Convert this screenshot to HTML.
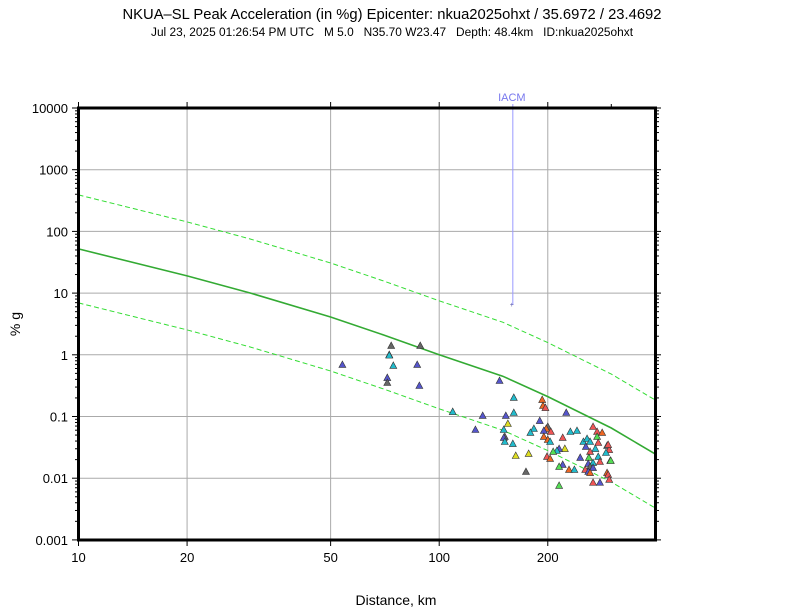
<!DOCTYPE html>
<html><head><meta charset="utf-8"><style>
html,body{margin:0;padding:0;background:#fff;}
svg{display:block;font-family:"Liberation Sans",sans-serif;}
</style></head><body>
<svg id="chart" width="792" height="612" viewBox="0 0 792 612">
<text x="392" y="19" text-anchor="middle" font-size="14.5" textLength="539" lengthAdjust="spacingAndGlyphs">NKUA–SL Peak Acceleration (in %g) Epicenter: nkua2025ohxt / 35.6972 / 23.4692</text>
<text x="392" y="36" text-anchor="middle" font-size="11.5" textLength="482" lengthAdjust="spacingAndGlyphs" style="white-space:pre" xml:space="preserve">Jul 23, 2025 01:26:54 PM UTC   M 5.0   N35.70 W23.47   Depth: 48.4km   ID:nkua2025ohxt</text>
<g id="grid"></g>
<g id="ticks"></g>
<g id="lines"></g>
<g id="station"></g>
<g id="points"></g>
<rect x="78.5" y="108" width="577" height="432" fill="none" stroke="#000" stroke-width="3"/>
<text x="396" y="605" text-anchor="middle" font-size="14">Distance, km</text>
<text x="20" y="324" text-anchor="middle" font-size="14" transform="rotate(-90 20 324)">% g</text>
</svg>
<script>
const xTicks=[10,20,50,100,200];
const yTicks=[0.001,0.01,0.1,1,10,100,1000,10000];
const yTickLabels=["0.001","0.01","0.1","1","10","100","1000","10000"];
const medDist=[10,20,30,50,70,100,150,200,300,400];
const medVal=[52,19,10,4.1,2.1,1.0,0.45,0.21,0.065,0.024];
const sigmaFactor=7.5;
const iacmDist=160, iacmVal=6.4;
const ptDist=[73.6,88.6,72.7,72.7,53.9,74.6,86.9,71.8,71.8,88.1,147,161,109,132,153,161,155,126,151,152,151,152,160,163,
193,194,197,225,190,200,198,183,179,195,204,231,241,267,274,283,274,220,195,200,203,251,257,262,276,292,296,255,271,262,
223,215,212,207,290,177,199,203,246,260,276,298,279,267,259,220,215,262,267,229,237,254,259,292,262,294,174,296,279,267,215,299,294];
const ptVal=[1.39,1.39,0.99,0.97,0.684,0.66,0.684,0.42,0.349,0.312,0.376,0.200,0.118,0.102,0.102,0.114,0.0756,0.0604,0.0604,0.0466,0.0449,0.0386,0.0358,0.0229,
0.185,0.148,0.137,0.114,0.0845,0.0676,0.0627,0.0627,0.0541,0.0582,0.0561,0.0561,0.0582,0.0676,0.0561,0.0541,0.0466,0.0449,0.0466,0.0416,0.0386,0.0386,0.0432,0.0386,0.0372,0.0333,0.0286,0.0321,0.0297,0.0266,
0.0297,0.0297,0.0276,0.0266,0.0256,0.0247,0.0221,0.0205,0.0213,0.0213,0.0221,0.0190,0.0183,0.0176,0.0170,0.0164,0.0152,0.0152,0.0146,0.0136,0.0136,0.0136,0.0126,0.0121,0.0121,0.0113,0.0126,0.0094,0.0084,0.0084,0.0075,0.019,0.0345];
const ptColor=["#666","#666","#2bc","#2bc","#55c","#2bc","#55c","#55c","#666","#55c","#55c","#2bc","#2bc","#55c","#55c","#2bc","#dd2","#55c","#2bc","#666","#55c","#2bc","#2bc","#dd2",
"#e62","#e62","#e55","#55c","#55c","#666","#e62","#2bc","#2bc","#55c","#e55","#2bc","#2bc","#e55","#e55","#e62","#5d5","#e55","#e62","#e62","#2bc","#2bc","#2bc","#2bc","#e55","#2bc","#e55","#55c","#2bc","#e55",
"#dd2","#55c","#2bc","#5d5","#2bc","#dd2","#e55","#e62","#55c","#5d5","#2bc","#5d5","#e55","#2bc","#55c","#55c","#5d5","#666","#55c","#e62","#2bc","#e55","#55c","#e62","#e62","#e55","#666","#e55","#55c","#e55","#5d5","#5d5","#e55"];

const X0=78.5,DEC=360.7,Y0=108,YDEC=61.7;
function sx(d){return X0+(Math.log10(d)-1)*DEC;}
function sy(v){return Y0+(4-Math.log10(v))*YDEC;}
const NS="http://www.w3.org/2000/svg";
function mk(tag,attrs,parent){const e=document.createElementNS(NS,tag);for(const k in attrs)e.setAttribute(k,attrs[k]);parent.appendChild(e);return e;}
const grid=document.getElementById('grid'),ticks=document.getElementById('ticks');
xTicks.forEach(t=>{const x=sx(t);
 const g=mk('line',{x1:x,x2:x,y1:108,y2:540,stroke:'#aaa','stroke-width':1},grid);
 
 const tk=mk('line',{x1:x,x2:x,y1:540,y2:546,stroke:'#000','stroke-width':1},ticks);
 
 const tt=mk('line',{x1:x,x2:x,y1:102,y2:108,stroke:'#000','stroke-width':1},ticks);
 
 const l=mk('text',{x:x,y:562,'text-anchor':'middle','font-size':13},ticks);l.textContent=t;
 });
[300,400].forEach(t=>{const x=sx(t);if(x<655){const tt=mk('line',{x1:x,x2:x,y1:104,y2:108,stroke:'#000','stroke-width':1},ticks);
 }});
yTicks.forEach((t,i)=>{const y=sy(t);
 if(i>0&&i<yTicks.length-1){const g=mk('line',{x1:78.5,x2:655.5,y1:y,y2:y,stroke:'#aaa','stroke-width':1},grid);
 }
 const tk=mk('line',{x1:72,x2:78.5,y1:y,y2:y,stroke:'#000','stroke-width':1},ticks);
 
 const tr=mk('line',{x1:655.5,x2:661,y1:y,y2:y,stroke:'#000','stroke-width':1},ticks);
 
 const l=mk('text',{x:68,y:y+5,'text-anchor':'end','font-size':13},ticks);l.textContent=yTickLabels[i];
 
 if(i<yTicks.length-1){for(let m=2;m<10;m++){const ym=sy(t*m);
  const a=mk('line',{x1:75,x2:78.5,y1:ym,y2:ym,stroke:'#000','stroke-width':1},ticks);
  
  const b=mk('line',{x1:655.5,x2:659,y1:ym,y2:ym,stroke:'#000','stroke-width':1},ticks);
  }}
});
const lines=document.getElementById('lines');
function pathFor(f){return medDist.map((d,i)=>(i?'L':'M')+sx(d).toFixed(1)+','+sy(medVal[i]*f).toFixed(1)).join(' ');}
const med=mk('path',{d:pathFor(1),fill:'none',stroke:'#3a3','stroke-width':1.6},lines);

const up=mk('path',{d:pathFor(sigmaFactor),fill:'none',stroke:'#3d3','stroke-width':1,'stroke-dasharray':'5,3'},lines);

const lo=mk('path',{d:pathFor(1/sigmaFactor),fill:'none',stroke:'#3d3','stroke-width':1,'stroke-dasharray':'5,3'},lines);

const st=document.getElementById('station');
const sl=mk('line',{x1:sx(iacmDist),x2:sx(iacmDist),y1:104,y2:sy(iacmVal),stroke:'#99f','stroke-width':1},st);

const sp=mk('text',{x:sx(iacmDist)-1,y:sy(iacmVal)+2,'text-anchor':'middle','font-size':7,fill:'#55a'},st);sp.textContent='+';

const stl=mk('text',{x:sx(iacmDist)-1,y:101,'text-anchor':'middle','font-size':11,fill:'#77e'},st);stl.textContent='IACM';

const pts=document.getElementById('points');
ptDist.forEach((d,i)=>{const x=sx(d),y=sy(ptVal[i]);
 const p=mk('polygon',{points:`${x},${y-4} ${x-3.5},${y+2.5} ${x+3.5},${y+2.5}`,fill:ptColor[i],stroke:'#333','stroke-width':0.6},pts);
 });
</script>
</body></html>
